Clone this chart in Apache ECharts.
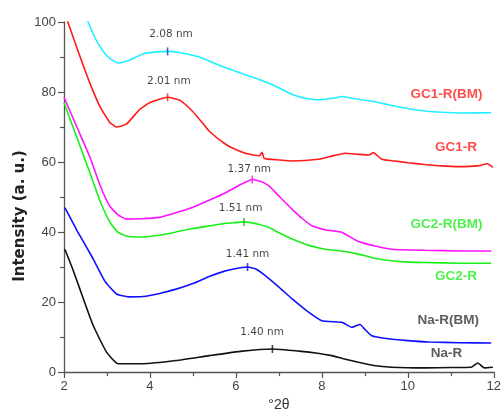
<!DOCTYPE html>
<html>
<head>
<meta charset="utf-8">
<script src="https://cdn.jsdelivr.net/npm/echarts@6/dist/echarts.min.js"></script>
<style>
  html, body { margin: 0; padding: 0; background: #fff; }
  #chart { width: 504px; height: 417px; }
</style>
</head>
<body>
<div id="chart"></div>
<script>
// XRD patterns, intensity vs 2θ (degrees)
const gc1rBM = [[2.55,100.3],[2.70,96.0],[2.83,93.1],[2.95,91.0],[3.06,89.7],[3.26,88.3],[3.50,89.0],[3.84,90.9],[4.10,91.4],[4.41,91.6],[4.70,91.2],[5.15,90.0],[5.45,88.5],[5.77,86.9],[6.15,85.2],[6.54,83.6],[6.90,81.8],[7.31,79.3],[7.70,78.0],[8.00,77.8],[8.25,78.2],[8.47,78.7],[8.70,78.2],[9.24,77.2],[9.60,76.2],[10.0,75.3],[10.4,74.6],[10.78,74.2],[11.3,74.0],[11.94,74.1]];
const gc1r = [[2.08,100.3],[2.37,90.2],[2.60,82.6],[2.83,76.0],[3.06,71.4],[3.22,70.0],[3.45,70.8],[3.76,75.0],[4.0,77.0],[4.41,78.5],[4.70,77.6],[4.99,74.5],[5.20,71.5],[5.38,68.8],[5.77,65.0],[6.05,63.3],[6.31,62.2],[6.55,61.8],[6.61,62.8],[6.66,61.0],[7.00,60.6],[7.31,60.3],[7.93,60.8],[8.20,61.6],[8.54,62.5],[8.85,62.2],[9.10,62.0],[9.20,62.7],[9.39,60.8],[9.70,60.3],[10.0,59.8],[10.4,59.3],[10.78,58.9],[11.2,58.7],[11.62,58.9],[11.85,59.5],[11.98,58.5]];
const gc2rBM = [[2.00,78.5],[2.30,70.0],[2.60,61.5],[2.85,53.0],[3.06,47.5],[3.25,45.0],[3.45,43.7],[3.80,43.8],[4.22,44.2],[4.60,45.5],[4.99,47.0],[5.40,49.2],[5.77,51.3],[6.10,53.5],[6.38,55.0],[6.60,54.4],[6.77,53.2],[7.00,50.3],[7.31,46.5],[7.55,43.8],[7.77,41.8],[8.10,40.6],[8.47,39.9],[8.85,37.3],[9.24,36.0],[9.62,35.1],[10.4,34.8],[11.2,34.6],[11.94,34.6]];
const gc2r = [[2.00,77.0],[2.30,67.0],[2.60,57.0],[2.85,48.5],[3.06,43.0],[3.25,40.0],[3.45,38.9],[3.80,38.6],[4.22,39.1],[4.60,40.0],[4.99,41.0],[5.40,41.8],[5.77,42.5],[6.00,42.7],[6.19,42.9],[6.50,42.3],[6.77,41.3],[7.00,39.8],[7.31,38.0],[7.70,36.2],[8.08,35.1],[8.50,34.5],[8.85,33.7],[9.20,32.6],[9.62,31.8],[10.0,31.4],[10.4,31.3],[11.2,31.1],[11.94,31.1]];
const naRBM = [[2.02,47.0],[2.30,40.5],[2.68,32.3],[2.95,26.0],[3.22,22.3],[3.50,21.5],[3.84,21.6],[4.20,22.4],[4.61,23.7],[5.00,25.3],[5.38,27.3],[5.70,28.7],[5.92,29.4],[6.27,30.0],[6.45,29.5],[6.69,27.5],[7.00,24.3],[7.31,20.9],[7.65,17.5],[8.00,14.7],[8.47,14.2],[8.70,12.8],[8.89,13.6],[9.00,12.2],[9.16,10.4],[9.50,9.6],[10.0,9.0],[10.5,8.6],[11.2,8.4],[11.94,8.3]];
const naR = [[2.02,35.1],[2.20,29.5],[2.37,23.7],[2.68,13.3],[2.99,5.7],[3.26,2.4],[3.84,2.4],[4.61,3.3],[5.38,4.7],[6.15,6.0],[6.85,6.6],[7.46,6.0],[7.90,5.4],[8.23,4.7],[8.50,3.8],[8.85,2.8],[9.20,1.9],[9.62,1.4],[10.4,1.2],[11.0,1.3],[11.47,1.4],[11.63,2.6],[11.78,1.2],[11.98,1.4]];

const seriesNames = ['GC1-R(BM)', 'GC1-R', 'GC2-R(BM)', 'GC2-R', 'Na-R(BM)', 'Na-R'];
const seriesData = [gc1rBM, gc1r, gc2rBM, gc2r, naRBM, naR];
const lineColors = ['#1ff0ff', '#ff1a1a', '#ff10ff', '#16f016', '#1010ff', '#111111'];

// peak positions (2θ, intensity) and their d-spacing labels
const peakPositions = [[4.41,91.6],[4.41,78.5],[6.38,55.0],[6.19,42.9],[6.27,30.0],[6.85,6.6]];
const peakTickColors = ['#1a2ad0', '#ff1a1a', '#ff10ff', '#16b016', '#1010ff', '#111111'];
const dSpacingText = ['2.08 nm', '2.01 nm', '1.37 nm', '1.51 nm', '1.41 nm', '1.40 nm'];
const dSpacingPos = [[4.49,96.6],[4.44,83.0],[6.31,57.9],[6.11,46.8],[6.27,33.7],[6.61,11.4]];

// sample names written beside each curve
const sampleLabelPos = [[10.9,79.3],[11.12,64.1],[10.9,42.3],[11.12,27.5],[10.94,14.9],[10.9,5.5]];
const sampleLabelColors = ['#ff2020', '#ff2020', '#22ee22', '#22ee22', '#333333', '#333333'];

const xTicks = { min: 2, max: 12, interval: 2 };
const yTicks = { min: 0, max: 100, interval: 20 };

const chart = echarts.init(document.getElementById('chart'), null, { renderer: 'canvas' });

const series = [];
seriesData.forEach((d, i) => {
  series.push({
    type: 'line',
    name: seriesNames[i],
    data: d,
    showSymbol: false,
    smooth: 0.15,
    clip: true,
    lineStyle: { color: lineColors[i], width: 1.6 },
    z: 2
  });
});
series.push({
  type: 'scatter',
  data: peakPositions.map((p, i) => ({ value: p, itemStyle: { color: peakTickColors[i] } })),
  symbol: 'rect',
  symbolSize: [1.6, 8],
  z: 3,
  silent: true
});
series.push({
  type: 'scatter',
  data: dSpacingPos.map((p, i) => ({ value: p, name: dSpacingText[i] })),
  symbolSize: 0,
  silent: true,
  label: {
    show: true,
    position: 'inside',
    formatter: '{b}',
    fontFamily: 'DejaVu Sans',
    fontSize: 10.5,
    color: '#111'
  }
});
series.push({
  type: 'scatter',
  data: sampleLabelPos.map((p, i) => ({ value: p, name: seriesNames[i], label: { color: sampleLabelColors[i] } })),
  symbolSize: 0,
  silent: true,
  label: {
    show: true,
    position: 'inside',
    formatter: '{b}',
    fontFamily: 'Liberation Sans',
    fontWeight: 'bold',
    fontSize: 13.5
  }
});

chart.setOption({
  animation: false,
  backgroundColor: '#fff',
  grid: { left: 64, right: 8, top: 22, bottom: 44, containLabel: false },
  xAxis: {
    type: 'value',
    min: xTicks.min, max: xTicks.max, interval: xTicks.interval,
    name: '°2θ',
    nameLocation: 'middle',
    nameGap: 25,
    nameTextStyle: { fontFamily: 'Liberation Sans', fontSize: 14, color: '#333' },
    axisLine: { show: true, onZero: false, lineStyle: { color: '#555', width: 1.3 } },
    axisTick: { show: true, inside: false, length: 6, lineStyle: { color: '#555', width: 1.2 } },
    minorTick: { show: true, splitNumber: 2, length: 4, lineStyle: { color: '#555', width: 1.2 } },
    axisLabel: { fontFamily: 'Liberation Sans', fontSize: 13, color: '#444', margin: 8 },
    splitLine: { show: false }
  },
  yAxis: {
    type: 'value',
    min: yTicks.min, max: yTicks.max, interval: yTicks.interval,
    axisLine: { show: true, lineStyle: { color: '#555', width: 1.3 } },
    axisTick: { show: true, inside: false, length: 6, lineStyle: { color: '#555', width: 1.2 } },
    minorTick: { show: true, splitNumber: 2, length: 4, lineStyle: { color: '#555', width: 1.2 } },
    axisLabel: { fontFamily: 'Liberation Sans', fontSize: 13, color: '#444', margin: 8 },
    splitLine: { show: false }
  },
  graphic: [{
    type: 'text',
    x: 20, y: 216,
    rotation: Math.PI / 2,
    style: {
      text: 'Intensity (a. u.)',
      font: 'bold 15px "DejaVu Sans"',
      fill: '#222',
      align: 'center',
      verticalAlign: 'middle'
    }
  }],
  series: series
});
</script>
</body>
</html>
